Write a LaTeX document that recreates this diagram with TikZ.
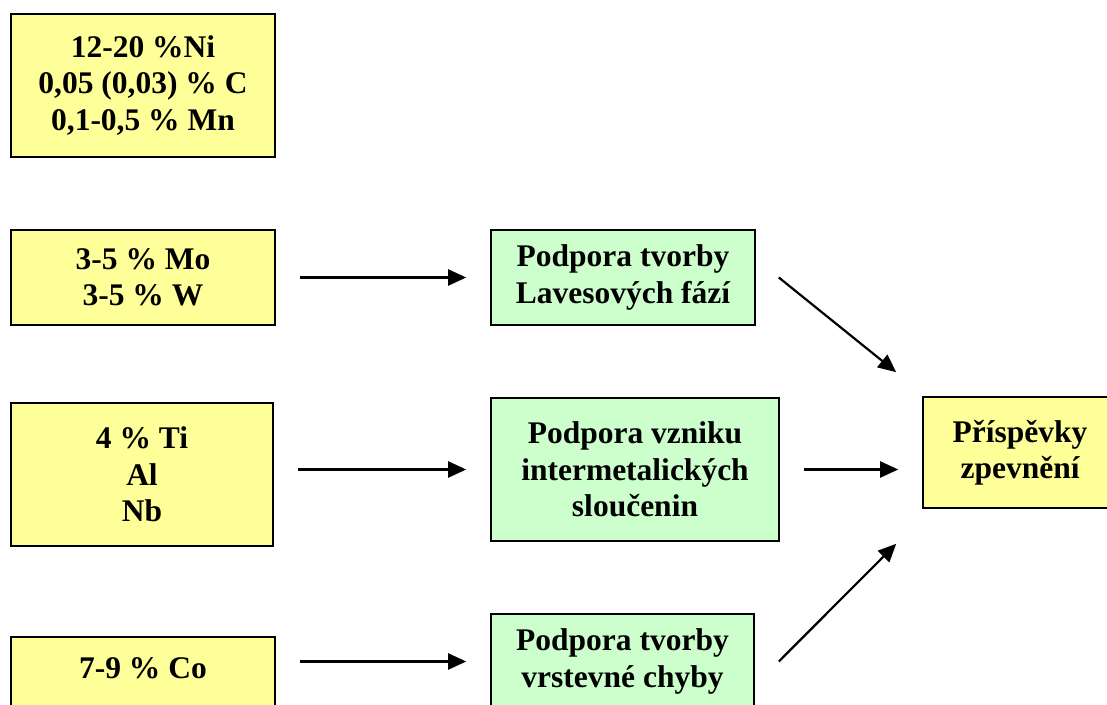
\documentclass[tikz,border=0pt]{standalone}
\usepackage{fontspec}
\setmainfont{Liberation Serif}
\usepackage{xcolor}
\usetikzlibrary{arrows.meta}

\definecolor{alloyyellow}{HTML}{FFFF99}
\definecolor{effectgreen}{HTML}{CCFFCC}

\begin{document}
\begin{tikzpicture}[
    x=1pt, y=1pt,
    box/.style={draw, line width=1.6pt, fill=alloyyellow, align=center, inner sep=0pt,
        font=\fontsize{31.5}{36.5}\selectfont\bfseries},
    effect/.style={box, fill=effectgreen},
    arr/.style={-{Triangle[length=18pt,width=16pt]}, line width=2.2pt},
    gap/.style={shorten <=24pt, shorten >=24pt}
]
    \useasboundingbox (0,0) rectangle (1107,704);

    % Alloying elements
    \node[box, minimum width=264pt, minimum height=143pt] (base) at (143,618.5)
        {12-20 \%Ni\\0,05 (0,03) \% C\\0,1-0,5 \% Mn};
    \node[box, minimum width=264pt, minimum height=95pt] (mow) at (143,426.5)
        {3-5 \% Mo\\3-5 \% W};
    \node[box, minimum width=262pt, minimum height=143pt] (tialnb) at (142,229.5)
        {4 \% Ti\\Al\\Nb};
    \node[box, minimum width=264pt, minimum height=95pt] (co) at (143,19.5)
        {7-9 \% Co\\[-14pt]\strut};

    % Effects
    \node[effect, minimum width=264pt, minimum height=95pt] (laves) at (623,426.5)
        {Podpora tvorby\\Lavesových fází};
    \node[effect, minimum width=288pt, minimum height=143pt] (intermet) at (635,234.5)
        {Podpora vzniku\\intermetalických\\sloučenin};
    \node[effect, minimum width=263pt, minimum height=95pt] (fault) at (622.5,42.5)
        {Podpora tvorby\\vrstevné chyby};

    % Result
    \node[box, minimum width=194pt, minimum height=111pt] (strength) at (1020,251.5)
        {Příspěvky\\zpevnění};

    % Connections
    \draw[arr, gap] (mow) -- (laves);
    \draw[arr, gap] (intermet.west -| tialnb.east) -- (intermet.west);
    \draw[arr, gap] (fault.west -| co.east) -- (fault.west);
    \draw[arr, gap] (intermet.east) -- (intermet.east -| strength.west);
    \draw[arr] ([xshift=23pt]laves.east) -- ([shift={(-26pt,24pt)}]strength.north west);
    \draw[arr] ([xshift=24pt]fault.east) -- ([shift={(-26pt,-35pt)}]strength.south west);
\end{tikzpicture}
\end{document}
